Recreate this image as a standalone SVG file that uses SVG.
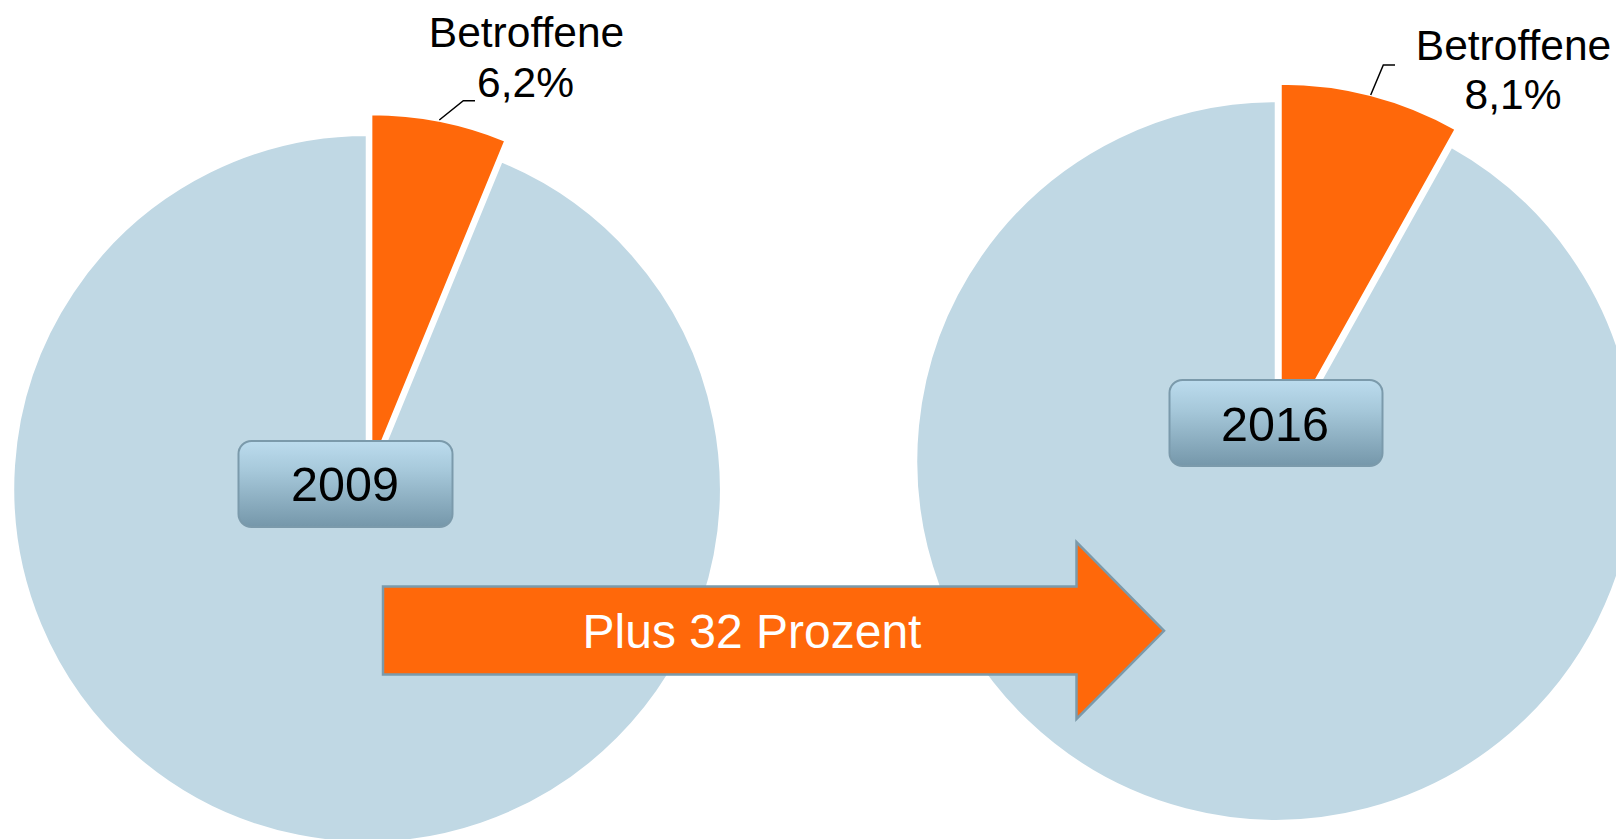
<svg xmlns="http://www.w3.org/2000/svg" width="1616" height="839" viewBox="0 0 1616 839">
<defs>
<linearGradient id="boxg" x1="0" y1="0" x2="0" y2="1">
<stop offset="0" stop-color="#bcdcee"/>
<stop offset="0.35" stop-color="#a6c8da"/>
<stop offset="1" stop-color="#7597aa"/>
</linearGradient>
<style>
.rest{fill:#c0d8e4;stroke:#ffffff;stroke-width:2.5}
.part{fill:#ff680a;stroke:#ffffff;stroke-width:2.5}
.lead{fill:none;stroke:#000000;stroke-width:1.5}
.lbl{font-family:"Liberation Sans",Arial,sans-serif;font-size:42.5px;fill:#000000;text-anchor:middle}
.box{fill:url(#boxg);stroke:#7b9aab;stroke-width:2}
.year{font-family:"Liberation Sans",Arial,sans-serif;font-size:48.5px;fill:#000000;text-anchor:middle}
.arrow{fill:#ff680a;stroke:#7b9aab;stroke-width:2.5}
.atext{font-family:"Liberation Sans",Arial,sans-serif;font-size:48px;fill:#ffffff;text-anchor:middle}
</style>
</defs>
<rect width="1616" height="839" fill="#ffffff"/>
<g id="pie2009">
<path class="rest" d="M367,488.7 L501.4,161.2 A354,354 0 1 1 367,134.7 Z"/>
<path class="part" d="M371.1,468.1 L371.1,114.1 A354,354 0 0 1 505.5,140.6 Z"/>
</g>
<g id="pie2016">
<path class="rest" d="M1276,461 L1451.4,146.6 A360,360 0 1 1 1276,101 Z"/>
<path class="part" d="M1280.5,443.6 L1280.5,83.6 A360,360 0 0 1 1455.9,129.2 Z"/>
</g>
<g id="connectors">
<polyline class="lead" points="439.3,120 463.3,100.7 475,100.7"/>
<polyline class="lead" points="1370.7,95 1383.3,65 1395,65"/>
</g>
<g id="label2009">
<text class="lbl" x="526.5" y="46.5">Betroffene</text>
<text class="lbl" x="525.5" y="96.5">6,2%</text>
</g>
<g id="label2016">
<text class="lbl" x="1513.5" y="60">Betroffene</text>
<text class="lbl" x="1513" y="108.5">8,1%</text>
</g>
<g id="box2009">
<rect class="box" x="238.5" y="441" width="214" height="86" rx="13"/>
<text class="year" x="345" y="501">2009</text>
</g>
<g id="box2016">
<rect class="box" x="1169.5" y="380" width="213" height="86" rx="13"/>
<text class="year" x="1275" y="441">2016</text>
</g>
<g id="growth">
<polygon class="arrow" points="383,586.5 1076.5,586.5 1076.5,542 1164,630.8 1076.5,719 1076.5,674.5 383,674.5"/>
<text class="atext" x="752" y="648">Plus 32 Prozent</text>
</g>
</svg>
